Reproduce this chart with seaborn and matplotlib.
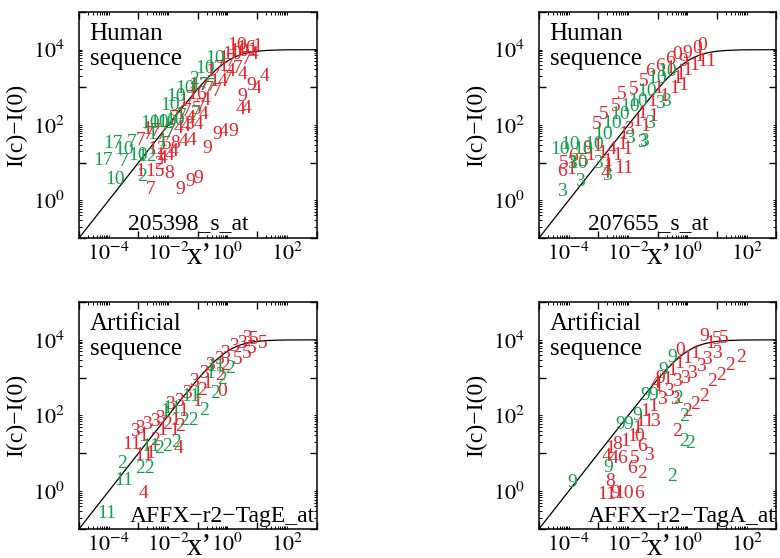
import numpy as np
import pandas as pd
import matplotlib
matplotlib.use('Agg')
import matplotlib.pyplot as plt
import seaborn as sns
from matplotlib.ticker import FixedLocator, FuncFormatter, NullFormatter

RED = '#e8212b'
GREEN = '#12a04d'

# fitted curve I(c)-I(0) against x'
curve_x = [1e-5, 1e-4, 1e-3, 1e-2, 3e-2, 0.1, 0.2, 0.4, 0.7, 1.0, 1.5, 2.5, 4.0, 7.0, 10.0, 20.0, 50.0, 100.0, 1000.0]
curve_y = [0.1, 1.0, 10.0, 99.0, 291.0, 909.0, 1667.0, 2857.0, 4118.0, 5000.0, 6000.0, 7143.0, 8000.0, 8750.0,
           9091.0, 9524.0, 9804.0, 9901.0, 9990.0]

probe_names = ['205398_s_at', '207655_s_at', 'AFFX\u2212r2\u2212TagE_at', 'AFFX\u2212r2\u2212TagA_at']
seq_labels = ['Human\nsequence', 'Human\nsequence', 'Artificial\nsequence', 'Artificial\nsequence']

# markers: (label, log10 x', log10 I)
p1_green = [('10', -3.79, 0.54), ('17', -4.18, 1.07), ('17', -3.84, 1.51), ('10', -3.50, 1.34), ('7', -3.50, 1.04),
            ('7', -3.22, 1.54), ('10', -3.00, 1.20), ('12', -2.72, 1.16), ('2', -2.88, 0.63), ('10', -2.60, 2.04),
            ('10', -2.32, 2.07), ('10', -2.04, 2.07), ('10', -1.76, 2.13), ('10', -1.93, 2.53), ('10', -1.72, 2.75),
            ('10', -1.42, 2.97), ('2', -1.14, 3.20), ('10', -0.74, 3.50), ('10', -0.41, 3.77), ('17', -0.91, 3.06),
            ('7', -1.53, 2.22), ('1', -2.21, 1.56), ('7', -1.98, 1.73), ('7', -1.08, 2.31), ('7', -0.52, 3.02),
            ('1', -2.55, 1.74)]
p1_red = [('7', -2.60, 0.28), ('15', -2.43, 0.76), ('8', -1.98, 0.72), ('1', -2.94, 0.76), ('9', -1.59, 0.28),
          ('9', -1.25, 0.50), ('9', -0.97, 0.58), ('9', -0.69, 1.38), ('4', -1.20, 1.60), ('9', -0.35, 1.74),
          ('4', -0.13, 1.82), ('9', 0.21, 1.82), ('4', 0.44, 2.40), ('4', 0.64, 2.44), ('9', 0.49, 2.75),
          ('9', 0.80, 3.06), ('4', 0.97, 2.96), ('4', 1.25, 3.28), ('12', -2.38, 1.34), ('14', -2.10, 1.20),
          ('2', -2.32, 0.94), ('4', -2.18, 1.11), ('4', -1.81, 1.29), ('7', -2.94, 1.58), ('7', -2.66, 1.74),
          ('1', -2.72, 1.87), ('7', -2.43, 1.82), ('7', -2.21, 1.74), ('7', -1.93, 1.82), ('4', -1.65, 1.91),
          ('4', -1.42, 1.96), ('34', -1.14, 2.00), ('5', -2.04, 1.47), ('8', -1.76, 1.51), ('4', -1.48, 1.56),
          ('7', -1.81, 2.18), ('1', -1.59, 2.27), ('7', -1.36, 2.35), ('4', -1.25, 2.18), ('5', -1.03, 2.40),
          ('4', -0.80, 2.27), ('1', -1.48, 2.62), ('7', -1.25, 2.71), ('16', -1.03, 2.80), ('4', -0.74, 2.66),
          ('7', -0.91, 2.49), ('1', -1.14, 3.06), ('7', -0.80, 3.06), ('7', -0.63, 2.93), ('1', -0.46, 3.15),
          ('7', -0.35, 2.89), ('4', -0.18, 3.15), ('7', 0.00, 3.24), ('1', -0.58, 3.42), ('7', -0.30, 3.50),
          ('1', -0.13, 3.55), ('4', 0.10, 3.42), ('7', 0.33, 3.50), ('4', 0.49, 3.33), ('1', -0.13, 3.77),
          ('10', 0.16, 3.86), ('10', 0.38, 3.95), ('16', 0.61, 4.04), ('1', 0.83, 3.99), ('4', 0.89, 3.86),
          ('7', 0.66, 3.73), ('7', 0.10, 3.68), ('10', 0.33, 4.12), ('1', 1.00, 4.08)]

p2_green = [('10', -4.29, 1.34), ('10', -3.95, 1.47), ('10', -3.50, 1.34), ('10', -3.16, 1.47), ('3', -4.24, 0.23),
            ('3', -3.62, 0.50), ('3', -3.90, 0.98), ('10', -3.67, 0.98), ('3', -3.00, 0.98), ('3', -2.72, 0.67),
            ('10', -2.83, 1.74), ('10', -2.55, 2.04), ('10', -2.27, 2.27), ('10', -1.93, 2.49), ('10', -1.65, 2.62),
            ('10', -1.36, 2.89), ('10', -1.03, 3.24), ('10', -0.69, 3.42), ('3', -1.25, 2.04), ('3', -1.48, 1.56),
            ('3', -0.74, 2.62), ('3', -0.91, 2.58), ('3', -1.93, 1.65), ('3', -1.54, 1.54)]
p2_red = [('6', -4.24, 0.76), ('5', -4.18, 0.98), ('6', -3.84, 1.16), ('1', -3.90, 0.81), ('5', -3.50, 1.03),
          ('1', -3.28, 1.20), ('8', -3.39, 1.38), ('1', -3.05, 1.43), ('1', -2.88, 1.25), ('1', -2.72, 1.03),
          ('4', -2.77, 0.72), ('1', -2.66, 0.89), ('11', -2.15, 0.85), ('1', -2.38, 1.20), ('4', -2.55, 1.34),
          ('1', -2.21, 1.47), ('1', -2.04, 1.34), ('5', -3.05, 2.00), ('5', -2.83, 2.27), ('5', -2.43, 2.49),
          ('5', -2.21, 2.80), ('5', -1.81, 2.93), ('5', -1.48, 3.15), ('1', -1.53, 2.31), ('1', -1.42, 1.96),
          ('1', -1.14, 2.22), ('1', -1.70, 2.09), ('3', -1.98, 1.87), ('1', -2.15, 1.74), ('1', -0.80, 2.75),
          ('1', -0.46, 2.97), ('1', -0.97, 2.97), ('1', -0.35, 3.24), ('1', -0.13, 3.06), ('1', -0.58, 3.50),
          ('6', -0.91, 3.55), ('6', -0.58, 3.73), ('1', -0.01, 3.46), ('1', 0.21, 3.59), ('11', 0.66, 3.68),
          ('0', -0.35, 3.86), ('9', -0.01, 3.90), ('0', 0.33, 4.04), ('0', 0.50, 4.12), ('1', 0.38, 3.82),
          ('9', -0.13, 3.68), ('1', -0.24, 3.33), ('6', -1.25, 3.42), ('1', -1.20, 2.62)]

p3_green = [('11', -4.07, -0.59), ('11', -3.50, 0.29), ('2', -3.56, 0.73), ('22', -2.77, 0.60), ('11', -2.60, 1.17),
            ('2', -2.32, 1.13), ('2', -2.04, 1.17), ('2', -1.73, 1.28), ('11', -1.87, 2.19), ('1', -2.10, 2.10),
            ('22', -1.31, 1.88), ('2', -0.80, 2.14), ('1', -1.03, 2.58), ('11', -1.25, 2.50), ('2', -0.41, 2.58),
            ('2', -0.18, 2.94), ('11', -0.41, 3.29), ('2', 0.10, 3.25), ('1', -0.58, 3.11)]
p3_red = [('4', -2.83, -0.06), ('11', -3.22, 1.22), ('11', -2.83, 0.95), ('1', -2.60, 1.00), ('4', -1.65, 1.13),
          ('3', -3.11, 1.57), ('3', -2.94, 1.66), ('3', -2.72, 1.75), ('1', -2.83, 1.44), ('2', -2.43, 1.35),
          ('3', -2.43, 1.83), ('1', -2.21, 1.61), ('3', -2.27, 1.92), ('2', -2.04, 1.75), ('1', -1.81, 1.61),
          ('3', -1.93, 2.28), ('1', -1.76, 1.88), ('2', -1.59, 1.70), ('3', -1.65, 2.36), ('1', -1.48, 2.10),
          ('3', -1.36, 2.58), ('3', -1.14, 2.89), ('1', -1.03, 2.36), ('2', -0.86, 2.67), ('3', -0.80, 3.11),
          ('3', -0.58, 3.33), ('1', -0.69, 2.85), ('2', -0.24, 3.07), ('3', -0.30, 3.47), ('3', -0.07, 3.64),
          ('2', -0.07, 3.33), ('3', 0.21, 3.82), ('5', 0.33, 3.47), ('3', 0.49, 3.91), ('5', 0.66, 3.64),
          ('5', 0.89, 4.00), ('5', 1.17, 3.91), ('5', 0.83, 3.77), ('3', 0.66, 4.04), ('0', -0.18, 2.63)]

p4_green = [('9', -0.51, 3.54), ('9', -0.81, 3.20), ('9', -1.42, 2.54), ('9', -1.15, 2.54), ('9', -1.69, 2.01),
            ('9', -2.26, 1.75), ('9', -1.99, 1.75), ('9', -2.67, 0.63), ('9', -3.89, 0.24), ('2', -0.33, 2.45),
            ('2', -0.12, 1.97), ('2', -0.12, 1.31), ('2', 0.10, 1.26), ('2', -0.52, 0.38)]
p4_red = [('11', -2.71, -0.10), ('9', -2.43, -0.06), ('10', -2.15, -0.06), ('6', -1.64, -0.06), ('8', -2.60, 0.25),
          ('2', -1.53, 0.47), ('6', -1.87, 0.60), ('5', -1.76, 0.86), ('4', -2.71, 0.91), ('4', -2.49, 0.86),
          ('6', -2.21, 0.86), ('3', -1.31, 0.95), ('1', -2.60, 1.13), ('8', -2.38, 1.22), ('1', -2.10, 1.31),
          ('6', -1.53, 1.17), ('1', -1.87, 1.44), ('0', -1.64, 1.44), ('1', -1.70, 1.66), ('1', -1.59, 1.83),
          ('1', -1.31, 1.83), ('3', -1.08, 1.83), ('1', -1.42, 2.10), ('1', -1.14, 2.23), ('3', -0.86, 2.41),
          ('1', -0.97, 2.76), ('3', -0.41, 2.41), ('3', -0.63, 2.63), ('1', -0.69, 2.94), ('3', -0.35, 2.89),
          ('1', -0.52, 3.20), ('3', -0.07, 2.98), ('1', -0.29, 3.38), ('3', 0.16, 3.11), ('1', 0.00, 3.51),
          ('3', 0.44, 3.29), ('1', 0.27, 3.64), ('3', 0.66, 3.47), ('9', 0.55, 4.08), ('1', 0.78, 3.91),
          ('5', 1.00, 4.00), ('3', 1.00, 3.64), ('5', 1.23, 4.04), ('2', 1.45, 3.33), ('2', 1.12, 3.07),
          ('2', 0.83, 2.89), ('2', 0.55, 2.50), ('2', 0.27, 2.28), ('2', -0.01, 2.10), ('2', -0.35, 1.57),
          ('2', 1.79, 3.54), ('4', -1.08, 2.85), ('9', -0.91, 2.98), ('0', -0.24, 3.73)]

panels = [(p1_red, p1_green), (p2_red, p2_green), (p3_red, p3_green), (p4_red, p4_green)]

sns.set_theme(style='ticks')
plt.rcParams['font.family'] = ['Liberation Serif', 'DejaVu Serif']
plt.rcParams['mathtext.fontset'] = 'stix'
plt.rcParams['text.color'] = 'black'
plt.rcParams['axes.labelcolor'] = 'black'
plt.rcParams['axes.edgecolor'] = 'black'
plt.rcParams['axes.linewidth'] = 1.1
plt.rcParams['xtick.color'] = 'black'
plt.rcParams['ytick.color'] = 'black'

fig = plt.figure(figsize=(7.8, 5.58), dpi=100)
rects = [(0.1013, 0.5735, 0.3045, 0.405), (0.691, 0.5735, 0.3045, 0.405),
         (0.1013, 0.052, 0.3045, 0.4068), (0.691, 0.052, 0.3045, 0.4068)]


def even_decade(v, pos):
    e = np.log10(v)
    k = int(round(e))
    if abs(e - k) < 1e-6 and k % 2 == 0:
        return r'$10^{%d}$' % k
    return ''


def setup_axis(axis, lo, hi):
    odd = [e for e in range(lo, hi + 1) if e % 2 != 0]
    even = [e for e in range(lo, hi + 1) if e % 2 == 0]
    axis.set_major_locator(FixedLocator([10.0 ** e for e in odd]))
    minor = [k * 10.0 ** e for e in odd for k in range(2, 10)] + [10.0 ** e for e in even]
    axis.set_minor_locator(FixedLocator(minor))
    axis.set_major_formatter(NullFormatter())
    axis.set_minor_formatter(FuncFormatter(even_decade))


curve = pd.DataFrame({'x': curve_x, 'y': curve_y})

for i, rect in enumerate(rects):
    ax = fig.add_axes(rect)
    ax.set_xscale('log')
    ax.set_yscale('log')
    sns.lineplot(data=curve, x='x', y='y', ax=ax, color='black', linewidth=0.9)
    ax.set_xlim(1e-5, 1e3)
    ax.set_ylim(1e-1, 1e5)
    setup_axis(ax.xaxis, -5, 3)
    setup_axis(ax.yaxis, -1, 5)
    ax.tick_params(which='major', direction='in', length=5, width=1, top=True, right=True)
    ax.tick_params(which='minor', direction='in', length=2.5, width=0.7, top=True, right=True, labelsize=16)
    ax.tick_params(axis='x', which='minor', pad=3)
    ax.tick_params(axis='y', which='minor', pad=10)

    red, green = panels[i]
    for rows, col in ((red, RED), (green, GREEN)):
        df = pd.DataFrame(rows, columns=['label', 'lx', 'ly'])
        for _, r in df.iterrows():
            ax.text(10 ** r.lx, 10 ** r.ly, r.label, color=col, fontsize=14,
                    ha='center', va='center', clip_on=True)

    ax.text(0.045, 0.95, seq_labels[i], transform=ax.transAxes, fontsize=18,
            ha='left', va='top', linespacing=1.15)
    if i < 2:
        ax.text(0.46, 0.04, probe_names[i], transform=ax.transAxes, fontsize=17,
                ha='center', va='baseline')
    else:
        ax.text(0.995, 0.03, probe_names[i], transform=ax.transAxes, fontsize=17,
                ha='right', va='baseline')

    ax.set_ylabel('I(c)\u2212I(0)', fontsize=17)
    ax.yaxis.set_label_coords(-0.22, 0.5)
    ax.set_xlabel('x\u2019', fontsize=22)
    ax.xaxis.label.set_va('baseline')
    ax.xaxis.set_label_coords(0.505, -0.115)

fig.savefig('out.png', dpi=100)
